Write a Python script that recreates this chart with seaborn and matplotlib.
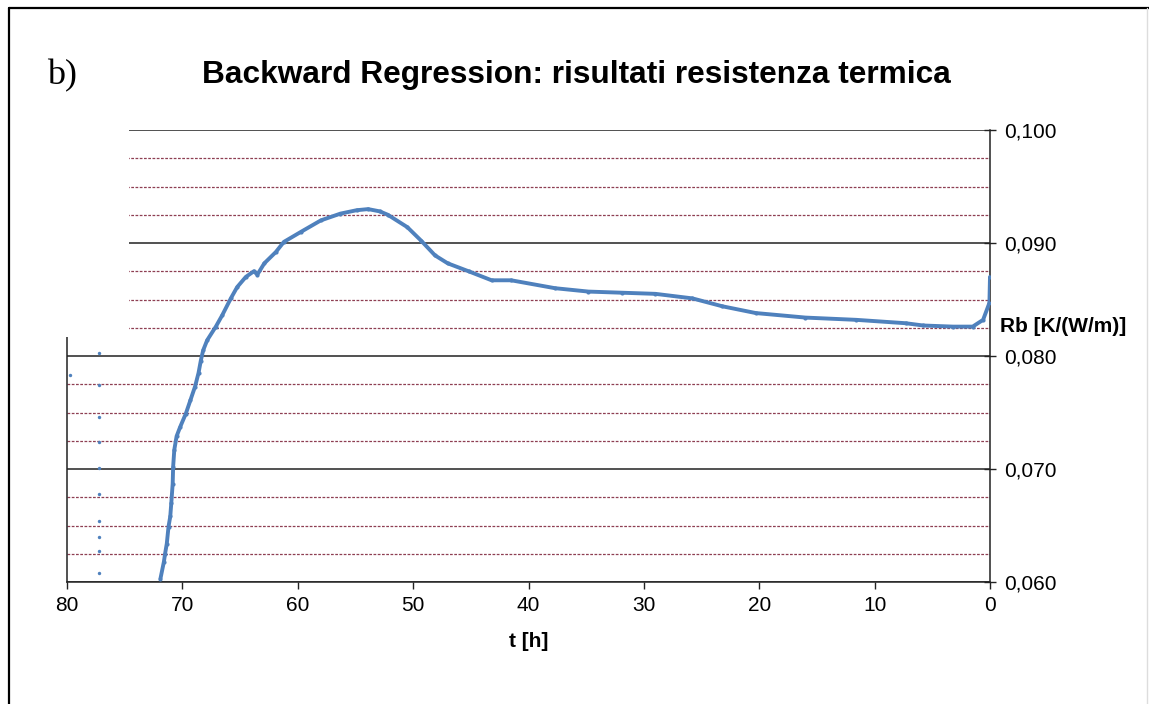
import matplotlib
matplotlib.use("Agg")
import matplotlib.pyplot as plt
from matplotlib.ticker import MultipleLocator, FuncFormatter
from matplotlib.patches import Rectangle
from matplotlib.lines import Line2D
import seaborn as sns
import pandas as pd

# ---- data ----
t_hours = [71.9, 71.6, 71.5, 71.35, 71.2, 71.05, 70.96, 70.84, 70.8, 70.7,
           70.5, 70.2, 69.7, 69.3, 68.9, 68.6, 68.4, 68.2, 67.85, 67.1,
           66.55, 65.8, 65.25, 64.5, 63.8, 63.5, 62.9, 61.9, 61.2, 59.7,
           58.0, 56.3, 54.9, 53.9, 52.9, 52.2, 50.5, 49.3, 48.1, 47.0,
           45.2, 43.2, 41.5, 37.7, 34.8, 31.9, 29.0, 25.8, 23.2, 20.3,
           16.0, 11.6, 7.3, 5.8, 3.2, 1.5, 0.6, 0.05, 0.0]
rb_values = [0.0603, 0.0618, 0.0625, 0.0634, 0.0649, 0.0658, 0.0670, 0.0687, 0.0702, 0.0717,
             0.0729, 0.0737, 0.0749, 0.0761, 0.0773, 0.0785, 0.0796, 0.0805, 0.0814, 0.0826,
             0.0836, 0.0851, 0.0861, 0.0870, 0.0875, 0.0872, 0.0882, 0.0892, 0.0901, 0.0910,
             0.0920, 0.0926, 0.0929, 0.0930, 0.0928, 0.0925, 0.0914, 0.0902, 0.0889, 0.0882,
             0.0875, 0.0867, 0.0867, 0.0860, 0.0857, 0.0856, 0.0855, 0.0851, 0.0844, 0.0838,
             0.0834, 0.0832, 0.0829, 0.0827, 0.0826, 0.0826, 0.0832, 0.0847, 0.0870]
stray_t = [79.7, 77.2, 77.2, 77.2, 77.2, 77.2, 77.2, 77.2, 77.2, 77.2, 77.2]
stray_rb = [0.0783, 0.0803, 0.0774, 0.0746, 0.0724, 0.0701, 0.0678, 0.0654, 0.0640, 0.0627, 0.0608]
x_ticks = [80, 70, 60, 50, 40, 30, 20, 10, 0]
y_ticks = [0.060, 0.070, 0.080, 0.090, 0.100]

title = "Backward Regression: risultati resistenza termica"
panel = "b)"
xlabel = "t [h]"
ylabel = "Rb [K/(W/m)]"

sns.set_theme(style="white")
plt.rcParams["font.family"] = ["Liberation Sans", "DejaVu Sans"]
plt.rcParams["text.color"] = "black"
plt.rcParams["axes.labelcolor"] = "black"
plt.rcParams["xtick.color"] = "black"
plt.rcParams["ytick.color"] = "black"

W, H = 1149, 704
fig = plt.figure(figsize=(W / 100, H / 100), dpi=100)
ax = fig.add_axes([67 / W, (H - 582) / H, (990 - 67) / W, (582 - 130) / H])

blue = "#4F81BD"
main = pd.DataFrame({"t": t_hours, "rb": rb_values})
stray = pd.DataFrame({"t": stray_t, "rb": stray_rb})
sns.lineplot(data=main, x="t", y="rb", sort=False, estimator=None, ax=ax,
             color=blue, lw=2.8, marker="o", markersize=3, markeredgewidth=0, zorder=5)
sns.scatterplot(data=stray, x="t", y="rb", ax=ax, color=blue, s=6, linewidth=0, zorder=5)

ax.set_xlim(80, 0)
ax.set_ylim(0.060, 0.100)
ax.set_xticks(x_ticks)
ax.set_yticks(y_ticks)
ax.yaxis.set_minor_locator(MultipleLocator(0.0025))
ax.yaxis.tick_right()
ax.yaxis.set_major_formatter(FuncFormatter(lambda v, p: f"{v:.3f}".replace(".", ",")))

ax.grid(which="major", axis="y", color="#222222", lw=1.1)
ax.grid(which="minor", axis="y", color="#8e3f52", lw=0.9, ls=(0, (2.2, 1.2)))
ax.grid(which="major", axis="x", visible=False)
ax.set_axisbelow(True)

ax.spines["top"].set_visible(False)
for s in ["left", "right", "bottom"]:
    ax.spines[s].set_visible(True)
    ax.spines[s].set_color("#222222")
    ax.spines[s].set_linewidth(1.1)

ax.tick_params(axis="x", which="major", direction="out", length=5, width=1, color="#222222",
               labelsize=15, pad=5, bottom=True)
ax.tick_params(axis="y", which="major", direction="inout", length=9, width=1, color="#222222",
               labelsize=15, pad=6, right=True, left=False)
ax.tick_params(axis="y", which="minor", length=0)

ax.set_xlabel(xlabel, fontsize=15, fontweight="bold")
ax.xaxis.set_label_coords(0.5, (582 - 632) / 452)
ax.set_ylabel(ylabel, fontsize=15, fontweight="bold", rotation=0, ha="left", va="center")
ax.yaxis.set_label_position("right")
ax.yaxis.set_label_coords((1000 - 67) / 923, (582 - 317) / 452)

# white area covering the upper-left of the plot as in the reference
ax.add_patch(Rectangle((50 / W, (H - 337) / H), 79 / W, (337 - 120) / H,
                       transform=fig.transFigure, facecolor="white", edgecolor="none",
                       clip_on=False, zorder=10))

fig.text(576 / W, (H - 75) / H, title, ha="center", va="center", fontsize=22.8, fontweight="bold")
fig.text(47 / W, (H - 76) / H, panel, ha="left", va="center", fontsize=26,
         family=["Liberation Serif", "DejaVu Serif"])

# outer frame (left and top edges visible in the reference)
fig.add_artist(Line2D([9 / W, 9 / W], [0, (H - 8) / H], transform=fig.transFigure, color="black", lw=1.6))
fig.add_artist(Line2D([9 / W, 1], [(H - 8) / H, (H - 8) / H], transform=fig.transFigure, color="black", lw=1.6))
fig.add_artist(Line2D([1147 / W, 1147 / W], [0, (H - 8) / H], transform=fig.transFigure, color="#dddddd", lw=1))

fig.savefig("out.png", dpi=100)
